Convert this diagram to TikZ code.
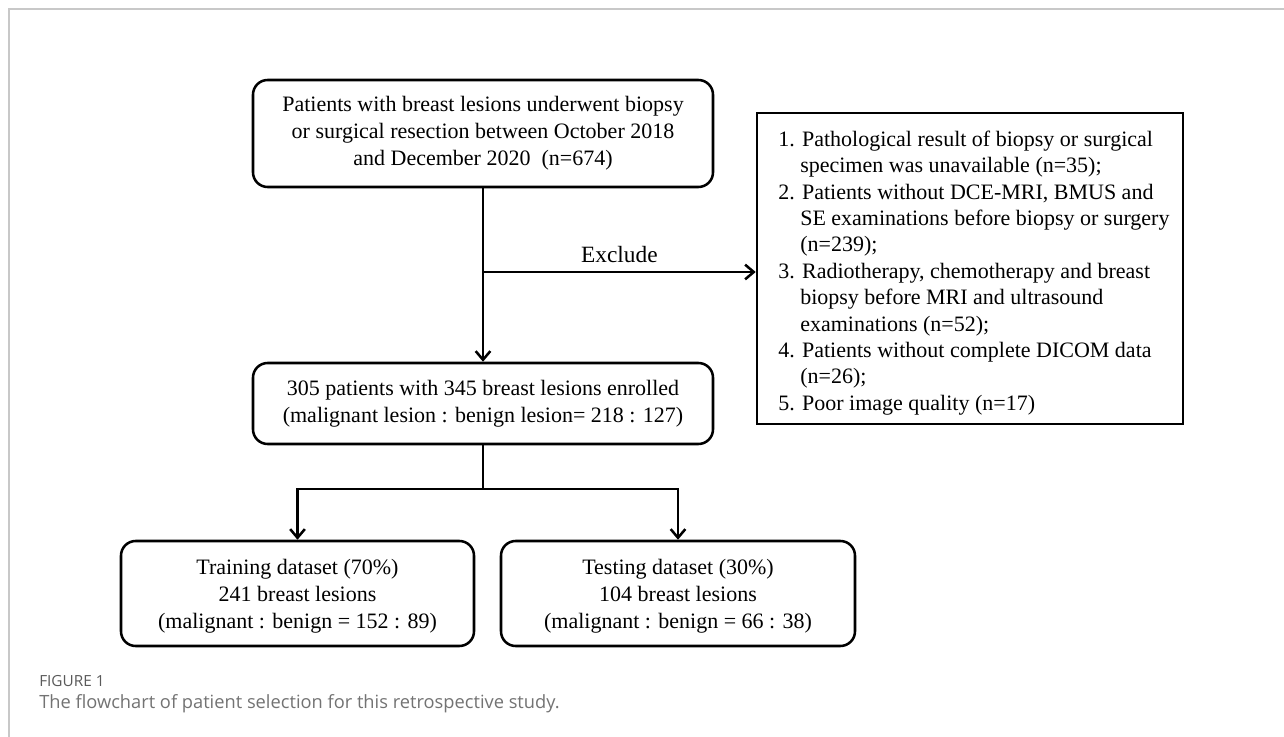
\documentclass[tikz,border=0pt]{standalone}
\usepackage{fontspec}
\setmainfont{Liberation Serif}
\newfontfamily\capfont{Open Sans}
\usetikzlibrary{arrows.meta}
\definecolor{framegray}{HTML}{C8C8C8}
\definecolor{capgray}{HTML}{5A5A5A}
\tikzset{
  px/.style={x=0.75pt,y=-0.75pt},
  roundbox/.style={draw, line width=1.9pt, rounded corners=11pt, align=center,
    font=\fontsize{16.5}{20.25}\selectfont, inner sep=0pt},
  plainbox/.style={draw, line width=1.9pt, inner sep=0pt},
  listtext/.style={align=left, font=\fontsize{16.5}{19.8}\selectfont, inner sep=0pt},
  conn/.style={line width=1.9pt},
  arr/.style={conn, -{Straight Barb[length=6.5pt,width=11pt,line width=1.9pt]}},
}
\begin{document}
\begin{tikzpicture}[px]
\useasboundingbox (0,0) rectangle (1284,737);
\fill[white] (0,0) rectangle (1284,737);
% frame
\draw[framegray, line width=0.9pt] (1284,9) -- (9,9) -- (9,737);
% boxes
\node[roundbox, minimum width=345pt, minimum height=80.25pt] (top) at (483,133.5)
  {Patients with breast lesions underwent biopsy\\ or surgical resection between October 2018\\ and December 2020~~(n=674)};
\node[plainbox, minimum width=319.5pt, minimum height=233.25pt] (excl) at (970,268.5) {};
\node[listtext, anchor=west] (excltext) at (778,273)
  {1. Pathological result of biopsy or surgical\\
   \hphantom{1.}\ specimen was unavailable (n=35);\\
   2. Patients without DCE-MRI, BMUS and\\
   \hphantom{1.}\ SE examinations before biopsy or surgery\\
   \hphantom{1.}\ (n=239);\\
   3. Radiotherapy, chemotherapy and breast\\
   \hphantom{1.}\ biopsy before MRI and ultrasound\\
   \hphantom{1.}\ examinations (n=52);\\
   4. Patients without complete DICOM data\\
   \hphantom{1.}\ (n=26);\\
   5. Poor image quality (n=17)};
\node[roundbox, minimum width=345pt, minimum height=60.75pt] (mid) at (483,403.5)
  {305 patients with 345 breast lesions enrolled\\ (malignant lesion : benign lesion= 218 : 127)};
\node[roundbox, minimum width=264.75pt, minimum height=78.75pt] (train) at (297.5,593.5)
  {\rule{0pt}{15.7pt}Training dataset (70\%)\\ 241 breast lesions\\ (malignant : benign = 152 : 89)};
\node[roundbox, minimum width=265.5pt, minimum height=78.75pt] (test) at (678,593.5)
  {\rule{0pt}{15.7pt}Testing dataset (30\%)\\ 104 breast lesions\\ (malignant : benign = 66 : 38)};
% connectors
\coordinate (j1) at (483,272);
\draw[arr] (top.south) -- (mid.north);
\draw[arr] (j1) -- (j1 -| excl.west) node[midway, above=3pt, font=\fontsize{17.5}{20}\selectfont] (exl) {Exclude};
\coordinate (j2) at (483,489);
\draw[conn] (mid.south) -- (j2);
\draw[arr] (j2) -| (train.north);
\draw[arr] (j2) -| (test.north);
% caption
\node[anchor=west, inner sep=0pt, text=capgray, font=\capfont\fontsize{11.5}{13}\selectfont] (figlab) at (39,681) {FIGURE 1};
\node[anchor=west, inner sep=0pt, text=capgray!85, font=\capfont\fontsize{13.7}{16}\selectfont] (cap) at (39,704) {The flowchart of patient selection for this retrospective study.};
\end{tikzpicture}
\end{document}
